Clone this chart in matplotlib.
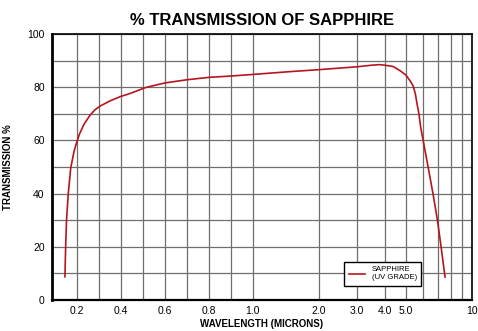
import matplotlib
matplotlib.use('Agg')
import matplotlib.pyplot as plt
import numpy as np

plt.rcParams['font.family'] = ['Liberation Sans', 'DejaVu Sans']

# wavelength (microns) and transmission (%)
wavelength = [0.1437, 0.147, 0.151, 0.159, 0.170, 0.185, 0.197, 0.210, 0.230, 0.258,
              0.281, 0.307, 0.349, 0.395, 0.440, 0.513, 0.6, 0.7, 0.8, 0.9, 1.0,
              1.5, 2.0, 3.0, 3.5, 3.79, 4.0, 4.38, 4.73, 5.0, 5.21, 5.4, 5.53,
              5.63, 5.74, 5.85, 6.0, 6.32, 6.65, 6.97, 7.24, 7.55]
transmission = [8.6, 20, 30, 40, 49.5, 55.8, 59.2, 62.4, 66, 69.5,
                71.6, 73.1, 74.9, 76.5, 77.7, 80, 81.7, 82.9, 83.8, 84.3, 84.9,
                86.0, 86.7, 87.8, 88.4, 88.6, 88.4, 87.9, 86.2, 84.7, 82.7, 80.6, 77.5,
                73.7, 70, 64.8, 60, 50, 40, 30, 20, 8.5]

x_major = [0.2, 0.4, 0.6, 0.8, 1.0, 2.0, 3.0, 4.0, 5.0, 10]
x_labels = ['0.2', '0.4', '0.6', '0.8', '1.0', '2.0', '3.0', '4.0', '5.0', '10']
x_minor = [0.3, 0.5, 0.7, 0.9, 6, 7, 8, 9]
y_major = [0, 20, 40, 60, 80, 100]
y_minor = [10, 30, 50, 70, 90]


# linear below 1 micron, logarithmic above
def fwd(x):
    x = np.asarray(x, dtype=float)
    return np.where(x < 1, x - 1, np.log10(np.maximum(x, 1e-9)))


def inv(u):
    u = np.asarray(u, dtype=float)
    return np.where(u < 0, u + 1, 10 ** u)


fig = plt.figure(figsize=(4.78, 3.31), dpi=100)
ax = fig.add_axes([0.108, 0.095, 0.879, 0.801])
ax.set_xscale('function', functions=(fwd, inv))
ax.set_xlim(0.083, 10)
ax.set_ylim(0, 100)

ax.plot(wavelength, transmission, color='#b8141e', lw=1.2,
        label='SAPPHIRE\n(UV GRADE)', zorder=3)

ax.set_xticks(x_major)
ax.set_xticklabels(x_labels)
ax.set_xticks(x_minor, minor=True)
ax.set_xticklabels([], minor=True)
ax.set_yticks(y_major)
ax.set_yticks(y_minor, minor=True)
ax.tick_params(which='both', length=0, labelsize=7.5, pad=5)
ax.grid(True, which='both', color='#6e6e6e', lw=0.9)

for s in ax.spines.values():
    s.set_color('black')
    s.set_linewidth(1.2)
ax.spines['left'].set_linewidth(2)
ax.spines['bottom'].set_linewidth(1.6)

ax.set_title('% TRANSMISSION OF SAPPHIRE', fontsize=12, fontweight='bold', pad=7)
ax.set_xlabel('WAVELENGTH (MICRONS)', fontsize=7, fontweight='bold', labelpad=2)
ax.set_ylabel('TRANSMISSION %', fontsize=7, fontweight='bold', labelpad=10)

leg = ax.legend(loc='lower left', bbox_to_anchor=(0.696, 0.051), borderaxespad=0,
                fontsize=5.5, fancybox=False, framealpha=1, edgecolor='black',
                handlelength=2.2, borderpad=0.6)
leg.get_frame().set_linewidth(1.0)

fig.savefig('out.png', dpi=100)
